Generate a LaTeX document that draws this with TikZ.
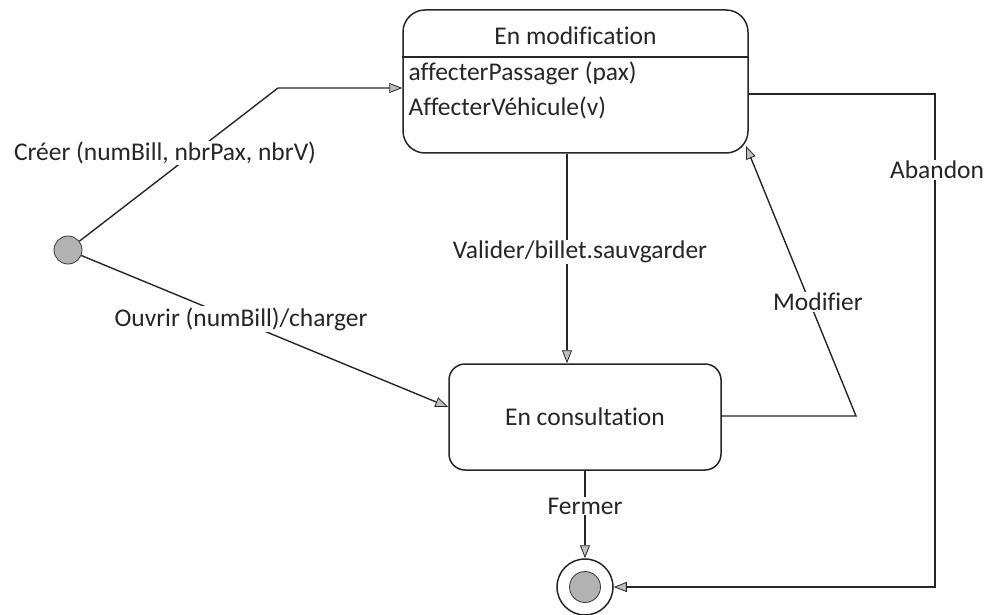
\documentclass[tikz,border=0pt]{standalone}
\usepackage{fontspec}
\setmainfont[Ligatures=NoCommon]{Carlito}
\usetikzlibrary{arrows.meta,calc}
\begin{document}
\begin{tikzpicture}[x=1pt,y=-1pt,
  every node/.style={font=\fontsize{25.5}{30}\selectfont, text=black!85},
  state/.style={draw=black!85, line width=1.5pt, inner sep=0pt},
  lbl/.style={fill=white, inner sep=1pt},
  conn/.style={draw=black!85, line width=1.4pt},
  arr/.style={conn, -{Triangle[length=13pt,width=10pt,fill=gray!50,line width=0.8pt]}},
  dot/.style={circle, fill=gray!60, draw=gray!45!black, line width=0.8pt, inner sep=0pt}
]
\useasboundingbox (0,0) rectangle (994,615);

% states
\node[state, rounded corners=22pt, minimum width=345pt, minimum height=143pt] (modif) at (575.5,81.5) {};
\node (modtitle) at (575.5,36) {En modification};
\draw[conn] (modif.west |- 0,57) -- (modif.east |- 0,57);
\node[anchor=west] (act1) at (405,73) {affecterPassager (pax)};
\node[anchor=west] (act2) at (405,108) {AffecterVéhicule(v)};

\node[state, rounded corners=16pt, minimum width=272pt, minimum height=106pt] (cons) at (585,417) {};
\node (constitle) at (585,417) {En consultation};

% pseudo-states
\node[dot, minimum size=28pt] (init) at (68,250) {};
\node[circle, draw=black!85, line width=1.5pt, minimum size=56pt, inner sep=0pt] (final) at (585,587) {};
\node[dot, minimum size=31pt] (finaldot) at (585,587) {};

% bend points
\coordinate (cr1) at (278,88);
\coordinate (va) at (567,0);
\coordinate (mo1) at (856,416);
\coordinate (motip) at (746,146);
\coordinate (ab1) at (935,94);
\coordinate (ab2) at (935,587);

% transitions
\draw[arr] (init) -- (cr1) -- (cr1 -| modif.west);
\draw[arr] (init) -- ($(cons.west)+(0,-10)$);
\draw[arr] (va |- modif.south) -- (va |- cons.north);
\draw[arr] (mo1 -| cons.east) -- (mo1) -- (motip);
\draw[arr] (cons.south) -- (final.north);
\draw[arr] (ab1 -| modif.east) -- (ab1) -- (ab2) -- (final.east);

% transition labels
\node[lbl] (lcreer) at (165,153) {Créer (numBill, nbrPax, nbrV)};
\node[lbl] (louvrir) at (241,319) {Ouvrir (numBill)/charger};
\node[lbl] (lvalider) at (580,252) {Valider/billet.sauvgarder};
\node[lbl] (lmodifier) at (818,302) {Modifier};
\node[lbl] (labandon) at (937,170) {Abandon};
\node[lbl] (lfermer) at (585,506) {Fermer};
\end{tikzpicture}
\end{document}
